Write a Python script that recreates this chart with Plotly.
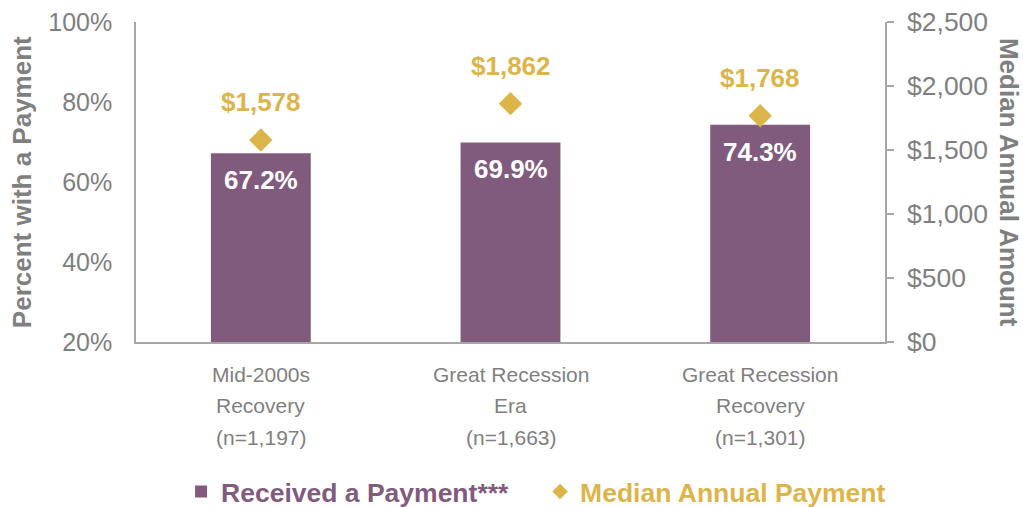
import plotly.graph_objects as go

categories = ["Mid-2000s<br>Recovery<br>(n=1,197)",
              "Great Recession<br>Era<br>(n=1,663)",
              "Great Recession<br>Recovery<br>(n=1,301)"]
pct_received = [67.2, 69.9, 74.3]
median_payment = [1578, 1862, 1768]
pct_ticks = [20, 40, 60, 80, 100]
pct_tick_labels = ["20%", "40%", "60%", "80%", "100%"]
dollar_ticks = [0, 500, 1000, 1500, 2000, 2500]
dollar_tick_labels = ["$0", "$500", "$1,000", "$1,500", "$2,000", "$2,500"]
bar_name = "Received a Payment***"
line_name = "Median Annual Payment"

PURPLE = "#805B7E"
GOLD = "#DBB54A"
GRAY = "#7F7F7F"
AXIS = "#A6A6A6"
FONT = "Arial, Liberation Sans, sans-serif"

fig = go.Figure()
fig.add_trace(go.Bar(
    x=categories, y=pct_received, width=0.4,
    marker=dict(color=PURPLE, line=dict(width=0)),
    name=f"<span style='color:{PURPLE}'><b>{bar_name}</b></span>",
    yaxis="y", hoverinfo="skip",
))
fig.add_trace(go.Scatter(
    x=categories, y=median_payment, mode="markers",
    marker=dict(symbol="diamond", size=18, color=GOLD),
    name=f"<span style='color:{GOLD}'><b>{line_name}</b></span>",
    yaxis="y2", hoverinfo="skip",
))

annotations = []
for c, v in zip(categories, pct_received):
    annotations.append(dict(x=c, y=v, xref="x", yref="y", yshift=-27,
                            text=f"<b>{v:.1f}%</b>", showarrow=False,
                            font=dict(family=FONT, size=26, color="white")))
for c, v in zip(categories, median_payment):
    annotations.append(dict(x=c, y=v, xref="x", yref="y2", yshift=38,
                            text=f"<b>${v:,}</b>", showarrow=False,
                            font=dict(family=FONT, size=26, color=GOLD)))
# category labels, one annotation per line for wider line spacing
for c in categories:
    for i, line in enumerate(c.split("<br>")):
        annotations.append(dict(x=c, y=0, xref="x", yref="paper",
                                yanchor="middle", yshift=-(32 + 31.5 * i),
                                text=line, showarrow=False,
                                font=dict(family=FONT, size=21, color=GRAY)))
annotations.append(dict(x=-0.152, y=0.5, xref="paper", yref="paper",
                        text="<b>Percent with a Payment</b>", textangle=-90,
                        showarrow=False, xanchor="center", yanchor="middle",
                        font=dict(family=FONT, size=26, color=GRAY)))
annotations.append(dict(x=1.1656, y=0.5, xref="paper", yref="paper",
                        text="<b>Median Annual Amount</b>", textangle=90,
                        showarrow=False, xanchor="center", yanchor="middle",
                        font=dict(family=FONT, size=26, color=GRAY)))

fig.update_layout(
    width=1023, height=507,
    margin=dict(l=136, r=138, t=22, b=165, autoexpand=False),
    paper_bgcolor="white", plot_bgcolor="white",
    font=dict(family=FONT, color=GRAY),
    showlegend=True,
    legend=dict(orientation="h", xref="container", yref="container",
                x=0.177, xanchor="left", y=0.03, yanchor="middle",
                font=dict(family=FONT, size=26.5), itemsizing="constant",
                entrywidth=314, entrywidthmode="pixels",
                bgcolor="rgba(0,0,0,0)", traceorder="normal"),
    xaxis=dict(showline=True, linecolor=AXIS, linewidth=1.5, ticks="",
               showgrid=False, zeroline=False, showticklabels=False,
               automargin=False),
    yaxis=dict(range=[20, 100], tickvals=pct_ticks, ticktext=pct_tick_labels,
               showline=True, linecolor=AXIS, linewidth=1.5, ticks="",
               showgrid=False, zeroline=False, automargin=False,
               tickfont=dict(family=FONT, size=25, color=GRAY),
               ticklabelstandoff=17),
    yaxis2=dict(range=[0, 2500], tickvals=dollar_ticks, ticktext=dollar_tick_labels,
                overlaying="y", side="right", automargin=False,
                showline=True, linecolor=AXIS, linewidth=1.5,
                ticks="outside", ticklen=7, tickcolor=AXIS, tickwidth=1.5,
                showgrid=False, zeroline=False,
                tickfont=dict(family=FONT, size=26.5, color=GRAY),
                ticklabelstandoff=8),
    annotations=annotations,
)

fig.write_html("out.html", config={"displayModeBar": False},
               post_script="document.body.style.margin='0';document.body.style.padding='0';")
